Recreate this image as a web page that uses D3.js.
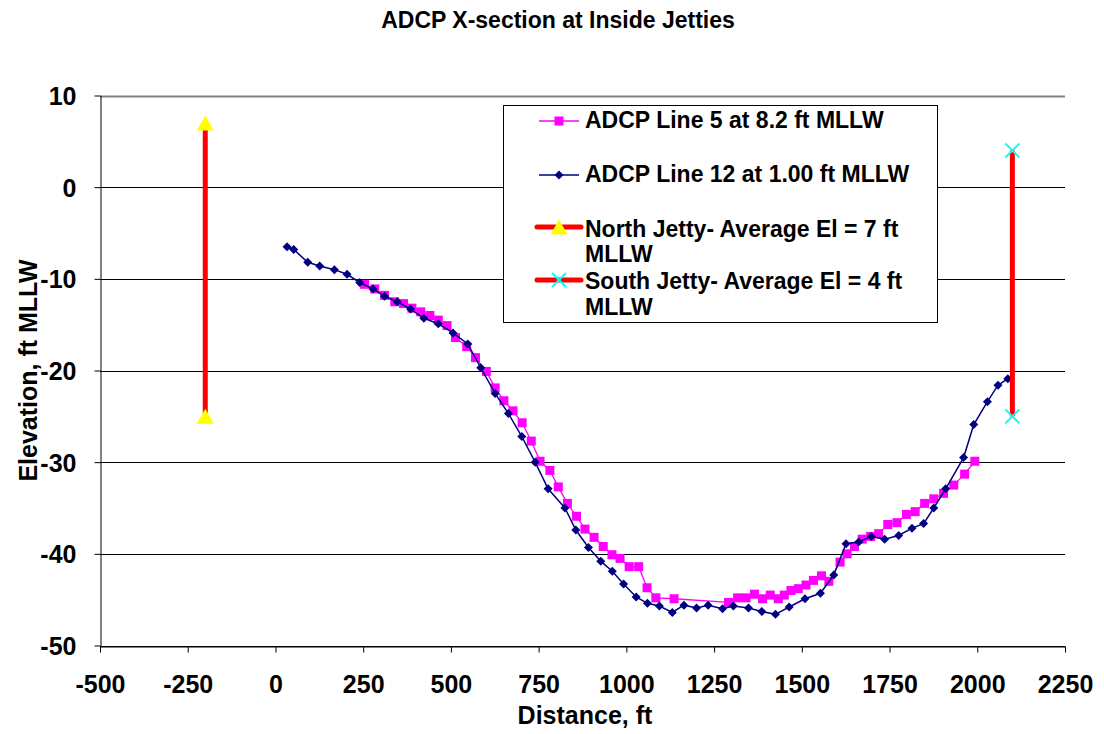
<!DOCTYPE html>
<html><head><meta charset="utf-8">
<script src="https://cdn.jsdelivr.net/npm/d3@7"></script>
<style>
body{margin:0;background:#fff}
text{font-family:Arial,"Liberation Sans",sans-serif;font-weight:bold;fill:#000}
</style>
</head><body>
<svg id="c" width="1104" height="734"></svg>
<script>
// ---- data ----
const line5X = [254,283,311,340,365,389,414,440,464,489,513,545,570,601,626,651,677,703,729,754,782,806,832,858,882,908,934,959,982,1008,1035,1059,1084,1136,1291,1317,1341,1365,1388,1410,1433,1450,1469,1490,1512,1533,1556,1577,1609,1629,1650,1672,1696,1719,1745,1771,1798,1823,1850,1876,1904,1933,1964,1993];
const line5Y = [-10.6,-11.1,-11.8,-12.5,-12.7,-13.2,-13.6,-14.0,-14.5,-15.1,-16.4,-17.4,-18.6,-20.1,-21.9,-23.3,-24.4,-25.7,-27.7,-29.9,-30.9,-32.7,-34.5,-35.9,-37.3,-38.2,-39.2,-40.1,-40.5,-41.4,-41.4,-43.7,-44.8,-44.9,-45.3,-44.8,-44.8,-44.4,-44.9,-44.5,-44.9,-44.5,-44.0,-43.8,-43.4,-42.9,-42.4,-43.0,-40.9,-40.0,-39.2,-38.4,-38.1,-37.8,-36.8,-36.6,-35.7,-35.4,-34.5,-34.0,-33.4,-32.5,-31.3,-29.9];
const line12X = [33,52,92,126,168,204,240,278,311,347,385,423,464,506,548,585,626,664,702,740,777,825,856,892,927,960,992,1028,1060,1094,1131,1164,1200,1233,1274,1305,1348,1386,1425,1464,1509,1553,1591,1626,1662,1698,1736,1776,1814,1847,1876,1910,1961,1990,2029,2059,2087];
const line12Y = [-6.5,-6.8,-8.2,-8.6,-9.0,-9.5,-10.4,-11.1,-11.9,-12.5,-13.3,-14.3,-14.9,-15.9,-17.1,-19.7,-22.5,-24.7,-27.2,-30.0,-32.9,-35.0,-37.4,-39.3,-40.8,-41.9,-43.3,-44.7,-45.4,-45.7,-46.4,-45.6,-45.9,-45.6,-46.0,-45.7,-45.9,-46.3,-46.6,-45.8,-44.9,-44.3,-42.3,-38.9,-38.7,-38.1,-38.4,-38.0,-37.2,-36.7,-35.0,-32.9,-29.5,-25.9,-23.4,-21.6,-20.9];
const northX = [-200,-200];
const northY = [7,-25];
const southX = [2100,2100];
const southY = [4,-25];
const xTicks = [-500,-250,0,250,500,750,1000,1250,1500,1750,2000,2250];
const yTicks = [10,0,-10,-20,-30,-40,-50];
const legendLabels = [
  ["ADCP Line 5 at 8.2 ft MLLW"],
  ["ADCP Line 12 at 1.00 ft MLLW"],
  ["North Jetty- Average El = 7 ft","MLLW"],
  ["South Jetty- Average El = 4 ft","MLLW"]
];
const titleText = "ADCP X-section at Inside Jetties";
const xTitle = "Distance, ft";
const yTitle = "Elevation, ft MLLW";

// ---- drawing ----
const svg = d3.select("#c");
const L = 100, R = 1065, T = 95.5, B = 645.5;
const x = d3.scaleLinear().domain([-500,2250]).range([L,R]);
const y = d3.scaleLinear().domain([-50,10]).range([B,T]);

svg.append("rect").attr("width",1104).attr("height",734).attr("fill","#fff");

// gridlines
svg.append("g").selectAll("line").data(yTicks).join("line")
  .attr("x1",L).attr("x2",R)
  .attr("y1",d=>Math.round(y(d))+0.5).attr("y2",d=>Math.round(y(d))+0.5)
  .attr("stroke",d=>d===10?"#808080":"#000").attr("stroke-width",d=>d===10?2:1);

// axes
const fmt = d => String(d);
const gx = svg.append("g").attr("transform",`translate(0,${Math.round(B)+0.5})`)
  .call(d3.axisBottom(x).tickValues(xTicks).tickSize(6).tickSizeOuter(0).tickPadding(32).tickFormat(fmt));
const gy = svg.append("g").attr("transform",`translate(${L+0.5},0)`)
  .call(d3.axisLeft(y).tickValues(yTicks).tickSize(6).tickSizeOuter(0).tickPadding(18).tickFormat(fmt));
[gx,gy].forEach(g=>{
  g.selectAll("path.domain").attr("stroke","#000");
  g.selectAll(".tick line").attr("stroke","#000");
  g.selectAll(".tick text").style("font-size","25px").style("font-family","Arial, 'Liberation Sans', sans-serif").style("font-weight","bold").attr("fill","#000");
});
gx.selectAll(".tick text").attr("dy","0.35em");
gy.selectAll(".tick text").attr("dy","0.36em");

// titles
svg.append("text").attr("x",558).attr("y",28).attr("text-anchor","middle").style("font-size","23px").text(titleText);
svg.append("text").attr("x",585).attr("y",724).attr("text-anchor","middle").style("font-size","25px").text(xTitle);
svg.append("text").attr("transform",`translate(37,${(T+B)/2}) rotate(-90)`).attr("text-anchor","middle").style("font-size","25px").text(yTitle);

const diamond = s => `M0,${-s}L${s},0L0,${s}L${-s},0Z`;
const tri = (w,h) => `M0,${-h/2}L${w/2},${h/2}L${-w/2},${h/2}Z`;

// series Line 5
const d5 = line5X.map((v,i)=>[v,line5Y[i]]);
const d12 = line12X.map((v,i)=>[v,line12Y[i]]);
const lineGen = d3.line().x(d=>x(d[0])).y(d=>y(d[1]));
svg.append("path").attr("d",lineGen(d5)).attr("fill","none").attr("stroke","#FF00FF").attr("stroke-width",1.3);
svg.append("g").selectAll("rect").data(d5).join("rect")
  .attr("x",d=>x(d[0])-4.5).attr("y",d=>y(d[1])-4.5).attr("width",9).attr("height",9).attr("fill","#FF00FF");
// series Line 12
svg.append("path").attr("d",lineGen(d12)).attr("fill","none").attr("stroke","#000080").attr("stroke-width",1.5);
svg.append("g").selectAll("path").data(d12).join("path")
  .attr("transform",d=>`translate(${x(d[0])},${y(d[1])})`).attr("d",diamond(4.5)).attr("fill","#000080");
// North jetty
const dn = northX.map((v,i)=>[v,northY[i]]);
svg.append("path").attr("d",lineGen(dn)).attr("stroke","#FF0000").attr("stroke-width",5).attr("fill","none");
svg.append("g").selectAll("path").data(dn).join("path")
  .attr("transform",d=>`translate(${x(d[0])},${y(d[1])})`).attr("d",tri(17,15)).attr("fill","#FFFF00");
// South jetty
const ds = southX.map((v,i)=>[v,southY[i]]);
svg.append("path").attr("d",lineGen(ds)).attr("stroke","#FF0000").attr("stroke-width",5).attr("fill","none");
const xm = svg.append("g").selectAll("g").data(ds).join("g")
  .attr("transform",d=>`translate(${x(d[0])},${y(d[1])})`);
xm.append("path").attr("d","M-7,-7L7,7M-7,7L7,-7").attr("stroke","#00FFFF").attr("stroke-width",2).attr("fill","none");

// legend
const lg = svg.append("g");
lg.append("rect").attr("x",503.5).attr("y",105.5).attr("width",434).attr("height",217).attr("fill","#fff").attr("stroke","#000").attr("stroke-width",1);
const rowsY = [121,175,227,280];
const sx1 = 539, sx2 = 579, sxm = 559;
// entry 1
lg.append("line").attr("x1",sx1).attr("x2",sx2).attr("y1",rowsY[0]).attr("y2",rowsY[0]).attr("stroke","#FF00FF").attr("stroke-width",1.3);
lg.append("rect").attr("x",sxm-4.5).attr("y",rowsY[0]-4.5).attr("width",9).attr("height",9).attr("fill","#FF00FF");
// entry 2
lg.append("line").attr("x1",sx1).attr("x2",sx2).attr("y1",rowsY[1]).attr("y2",rowsY[1]).attr("stroke","#000080").attr("stroke-width",1.5);
lg.append("path").attr("transform",`translate(${sxm},${rowsY[1]})`).attr("d",diamond(4.5)).attr("fill","#000080");
// entry 3
lg.append("line").attr("x1",sx1-2).attr("x2",sx2+2).attr("y1",rowsY[2]).attr("y2",rowsY[2]).attr("stroke","#FF0000").attr("stroke-width",5).attr("stroke-linecap","round");
lg.append("path").attr("transform",`translate(${sxm},${rowsY[2]})`).attr("d",tri(17,15)).attr("fill","#FFFF00");
// entry 4
lg.append("line").attr("x1",sx1-2).attr("x2",sx2+2).attr("y1",rowsY[3]).attr("y2",rowsY[3]).attr("stroke","#FF0000").attr("stroke-width",5).attr("stroke-linecap","round");
lg.append("path").attr("transform",`translate(${sxm},${rowsY[3]})`).attr("d","M-7,-7L7,7M-7,7L7,-7").attr("stroke","#00FFFF").attr("stroke-width",2);
// texts
const textBase = [[128],[182],[237,262],[289,315]];
legendLabels.forEach((lines,i)=>{
  lines.forEach((t,j)=>{
    lg.append("text").attr("x",585).attr("y",textBase[i][j]).style("font-size","23px").text(t);
  });
});
</script>
</body></html>
